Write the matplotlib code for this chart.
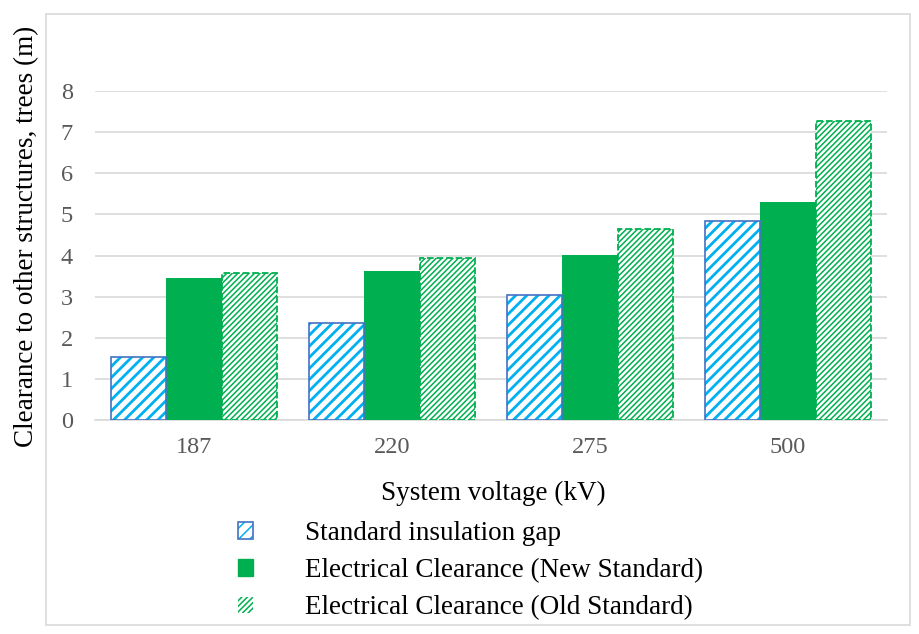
import numpy as np
import matplotlib
matplotlib.use("Agg")
import matplotlib.pyplot as plt
from matplotlib.patches import Patch, Rectangle

plt.rcParams['font.family'] = ['Liberation Serif', 'DejaVu Serif']

voltages = ['187', '220', '275', '500']
insulation_gap = [1.53, 2.36, 3.04, 4.83]
clear_new = [3.45, 3.62, 4.01, 5.30]
clear_old = [3.57, 3.93, 4.65, 7.28]

BLUE_EDGE = '#4472C4'
BLUE_HATCH = '#00B0F0'
GREEN = '#00B050'
GRAY_TXT = '#595959'

fig = plt.figure(figsize=(9.2, 6.34), dpi=100)
ax = fig.add_axes([95/920, 1-420/634, 792/920, 329/634])

x = np.arange(len(voltages))
w = 0.28

plt.rcParams['hatch.linewidth'] = 2.0
ax.bar(x - w, insulation_gap, w, facecolor='white', edgecolor=BLUE_HATCH,
       hatch='///', linewidth=0, zorder=3)
ax.bar(x - w, insulation_gap, w, fill=False, edgecolor=BLUE_EDGE, linewidth=1.2, zorder=4)
ax.bar(x, clear_new, w, color=GREEN, linewidth=0, zorder=3)
plt.rcParams['hatch.linewidth'] = 1.1
ax.bar(x + w, clear_old, w, facecolor='white', edgecolor=GREEN, hatch='//////',
       linewidth=1.3, linestyle='--', zorder=3)

ax.set_ylim(0, 8)
ax.set_xlim(-0.5, 3.5)
ax.set_yticks(range(0, 9))
ax.yaxis.grid(True, color='#D9D9D9', linewidth=1.2, zorder=0)
ax.set_axisbelow(True)
for s in ['left', 'right', 'top']:
    ax.spines[s].set_visible(False)
ax.spines['bottom'].set_color('#D9D9D9')
ax.spines['bottom'].set_linewidth(1.2)
ax.tick_params(axis='both', length=0, labelsize=17.5, labelcolor=GRAY_TXT)
ax.tick_params(axis='y', pad=16)
ax.tick_params(axis='x', pad=12)
ax.set_xticks(x)
ax.set_xticklabels(voltages)

fig.text(493/920, 1-493/634, 'System voltage (kV)', fontsize=19.5, ha='center', va='center')
fig.text(27/920, 1-236/634, 'Clearance to other structures, trees (m)', fontsize=19.5,
         rotation=90, ha='center', va='center')

# outer frame
fig.patches.append(Rectangle((46/920, 1-625/634), 864/920, 611/634, transform=fig.transFigure,
                             fill=False, edgecolor='#D9D9D9', linewidth=1.2))

h1 = (Patch(facecolor='white', edgecolor=BLUE_HATCH, hatch='///', linewidth=0),
      Patch(fill=False, edgecolor=BLUE_EDGE, linewidth=1.2))
h2 = Patch(facecolor=GREEN, edgecolor=GREEN)
h3 = Patch(facecolor='white', edgecolor=GREEN, hatch='//////', linewidth=0)
fig.legend([h1, h2, h3], ['Standard insulation gap', 'Electrical Clearance (New Standard)',
                          'Electrical Clearance (Old Standard)'],
           loc='upper left', bbox_to_anchor=(238/920, 1-521/634), frameon=False,
           fontsize=19.5, handlelength=0.55, handleheight=0.55, handletextpad=1.92,
           labelspacing=0.45, borderaxespad=0, borderpad=0)

fig.savefig('out.png', dpi=100)
